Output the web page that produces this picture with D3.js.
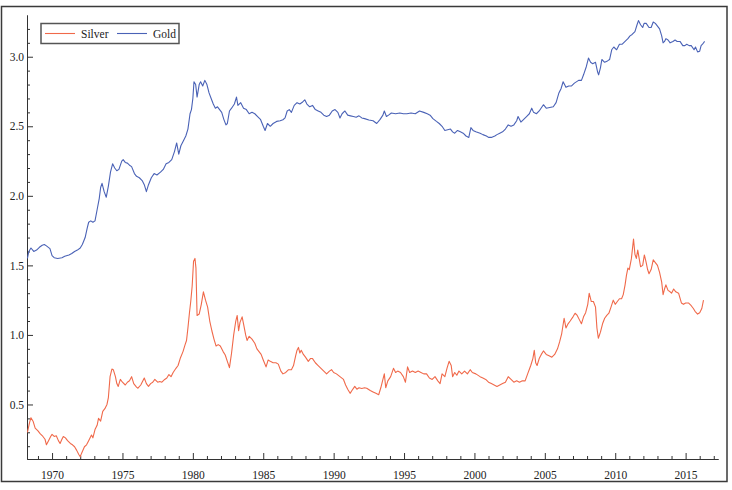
<!DOCTYPE html>
<html>
<head>
<meta charset="utf-8">
<script src="https://cdn.jsdelivr.net/npm/d3@7"></script>
<style>
html,body{margin:0;padding:0;background:#fff;}
svg{display:block;}
</style>
</head>
<body>
<svg id="chart" width="732" height="490"></svg>
<script>
// ---- Data (log10 of price) ----
const seriesNames = ["Silver", "Gold"];
const seriesColors = ["#f0694a", "#4a62b6"];

const goldYears = [1968.25,1968.35,1968.5,1968.7,1968.9,1969.1,1969.3,1969.45,1969.6,1969.85,1970.0,1970.15,1970.4,1970.7,1970.9,1971.2,1971.4,1971.6,1971.8,1972.0,1972.15,1972.35,1972.5,1972.6,1972.75,1972.9,1973.05,1973.2,1973.35,1973.45,1973.55,1973.7,1973.85,1974.0,1974.15,1974.3,1974.45,1974.6,1974.75,1974.95,1975.05,1975.2,1975.35,1975.5,1975.65,1975.85,1976.0,1976.2,1976.4,1976.55,1976.7,1976.85,1977.05,1977.25,1977.45,1977.7,1977.9,1978.1,1978.3,1978.5,1978.7,1978.85,1979.0,1979.15,1979.35,1979.5,1979.65,1979.8,1979.9,1980.0,1980.08,1980.2,1980.3,1980.45,1980.55,1980.7,1980.85,1981.0,1981.15,1981.3,1981.45,1981.6,1981.75,1981.9,1982.05,1982.2,1982.35,1982.45,1982.6,1982.75,1982.95,1983.1,1983.2,1983.4,1983.6,1983.8,1984.0,1984.2,1984.4,1984.6,1984.8,1985.0,1985.13,1985.3,1985.5,1985.7,1985.95,1986.2,1986.4,1986.55,1986.7,1986.85,1987.0,1987.2,1987.4,1987.6,1987.8,1987.95,1988.1,1988.3,1988.5,1988.7,1988.9,1989.1,1989.3,1989.5,1989.7,1989.9,1990.1,1990.3,1990.45,1990.6,1990.8,1991.0,1991.2,1991.4,1991.6,1991.8,1992.0,1992.2,1992.5,1992.8,1993.06,1993.3,1993.5,1993.6,1993.75,1993.9,1994.1,1994.4,1994.7,1994.95,1995.2,1995.5,1995.8,1996.1,1996.4,1996.65,1996.85,1997.05,1997.3,1997.5,1997.7,1997.9,1998.1,1998.3,1998.45,1998.6,1998.8,1999.0,1999.2,1999.4,1999.6,1999.75,1999.9,2000.1,2000.4,2000.6,2000.85,2001.0,2001.2,2001.45,2001.6,2001.8,2002.0,2002.2,2002.4,2002.6,2002.8,2003.0,2003.1,2003.3,2003.5,2003.7,2003.9,2004.07,2004.2,2004.4,2004.6,2004.9,2005.1,2005.35,2005.6,2005.8,2006.0,2006.15,2006.3,2006.5,2006.7,2006.9,2007.1,2007.4,2007.6,2007.75,2007.95,2008.1,2008.25,2008.4,2008.6,2008.75,2008.82,2008.95,2009.05,2009.25,2009.45,2009.6,2009.75,2009.9,2010.1,2010.3,2010.5,2010.7,2010.9,2011.05,2011.2,2011.4,2011.55,2011.65,2011.8,2011.95,2012.05,2012.2,2012.4,2012.55,2012.7,2012.85,2013.0,2013.15,2013.3,2013.4,2013.5,2013.6,2013.75,2013.9,2014.1,2014.25,2014.4,2014.6,2014.8,2014.95,2015.08,2015.25,2015.4,2015.6,2015.7,2015.85,2016.0,2016.1,2016.2,2016.35];
const goldValues = [1.55,1.60,1.625,1.60,1.61,1.63,1.645,1.65,1.64,1.62,1.57,1.555,1.55,1.555,1.565,1.575,1.585,1.60,1.61,1.625,1.65,1.70,1.77,1.81,1.82,1.81,1.82,1.90,1.98,2.06,2.09,2.03,1.99,2.07,2.17,2.23,2.20,2.18,2.19,2.25,2.26,2.24,2.235,2.22,2.21,2.16,2.14,2.13,2.11,2.08,2.03,2.08,2.13,2.16,2.15,2.17,2.19,2.23,2.24,2.26,2.32,2.38,2.30,2.36,2.40,2.43,2.48,2.59,2.62,2.70,2.82,2.80,2.71,2.80,2.82,2.79,2.83,2.80,2.74,2.70,2.66,2.63,2.64,2.62,2.60,2.55,2.51,2.52,2.61,2.63,2.66,2.71,2.65,2.67,2.63,2.62,2.59,2.60,2.59,2.57,2.55,2.50,2.47,2.52,2.50,2.52,2.535,2.54,2.547,2.56,2.61,2.62,2.60,2.65,2.67,2.66,2.675,2.69,2.66,2.64,2.65,2.62,2.61,2.60,2.58,2.57,2.58,2.61,2.62,2.60,2.56,2.59,2.61,2.58,2.575,2.57,2.565,2.575,2.56,2.555,2.545,2.54,2.52,2.55,2.58,2.61,2.57,2.58,2.595,2.59,2.595,2.59,2.59,2.595,2.59,2.61,2.60,2.59,2.58,2.555,2.535,2.52,2.50,2.47,2.475,2.48,2.46,2.45,2.47,2.46,2.45,2.43,2.42,2.49,2.47,2.46,2.45,2.44,2.43,2.42,2.42,2.43,2.44,2.45,2.46,2.48,2.51,2.50,2.51,2.54,2.57,2.53,2.55,2.57,2.59,2.63,2.60,2.59,2.61,2.655,2.63,2.635,2.64,2.67,2.74,2.77,2.82,2.78,2.79,2.79,2.81,2.83,2.83,2.87,2.93,2.99,2.96,2.95,2.96,2.89,2.87,2.92,2.98,2.96,2.97,2.98,3.05,3.07,3.05,3.09,3.09,3.11,3.13,3.15,3.16,3.18,3.23,3.26,3.23,3.21,3.24,3.24,3.21,3.21,3.25,3.24,3.22,3.20,3.15,3.10,3.11,3.13,3.12,3.10,3.11,3.12,3.11,3.11,3.08,3.08,3.09,3.08,3.08,3.05,3.07,3.035,3.04,3.08,3.09,3.11];

const silverYears = [1968.25,1968.4,1968.5,1968.65,1968.8,1969.0,1969.15,1969.35,1969.5,1969.6,1969.75,1969.9,1970.0,1970.15,1970.3,1970.45,1970.57,1970.7,1970.8,1970.95,1971.1,1971.3,1971.45,1971.6,1971.75,1971.9,1972.0,1972.1,1972.3,1972.45,1972.6,1972.8,1972.9,1973.05,1973.2,1973.3,1973.45,1973.6,1973.75,1973.9,1974.0,1974.12,1974.25,1974.35,1974.5,1974.6,1974.7,1974.85,1975.0,1975.2,1975.35,1975.5,1975.65,1975.8,1976.0,1976.1,1976.3,1976.55,1976.7,1976.85,1977.0,1977.15,1977.3,1977.5,1977.65,1977.8,1978.0,1978.15,1978.3,1978.45,1978.6,1978.8,1978.95,1979.1,1979.3,1979.45,1979.55,1979.65,1979.75,1979.85,1979.95,1980.05,1980.15,1980.22,1980.3,1980.45,1980.6,1980.75,1980.9,1981.05,1981.2,1981.35,1981.5,1981.65,1981.8,1981.95,1982.15,1982.3,1982.45,1982.6,1982.75,1982.9,1983.05,1983.15,1983.25,1983.35,1983.5,1983.6,1983.75,1983.85,1984.0,1984.2,1984.4,1984.55,1984.7,1984.85,1985.0,1985.2,1985.35,1985.5,1985.7,1985.9,1986.07,1986.25,1986.4,1986.6,1986.8,1987.0,1987.15,1987.3,1987.4,1987.5,1987.6,1987.7,1987.85,1988.0,1988.2,1988.35,1988.5,1988.7,1988.9,1989.1,1989.3,1989.5,1989.7,1989.85,1990.0,1990.2,1990.45,1990.7,1990.85,1991.0,1991.17,1991.3,1991.5,1991.65,1991.8,1992.0,1992.2,1992.35,1992.6,1992.8,1993.0,1993.2,1993.35,1993.5,1993.6,1993.7,1993.85,1994.05,1994.25,1994.4,1994.55,1994.75,1994.95,1995.1,1995.25,1995.4,1995.6,1995.8,1996.0,1996.2,1996.4,1996.6,1996.8,1997.0,1997.2,1997.4,1997.56,1997.7,1997.9,1998.05,1998.2,1998.35,1998.45,1998.6,1998.75,1998.9,1999.1,1999.3,1999.5,1999.7,1999.85,2000.1,2000.4,2000.6,2000.8,2001.0,2001.2,2001.4,2001.6,2001.8,2002.0,2002.2,2002.4,2002.6,2002.8,2003.0,2003.2,2003.4,2003.6,2003.8,2004.0,2004.15,2004.25,2004.35,2004.45,2004.6,2004.75,2004.9,2005.1,2005.3,2005.5,2005.7,2005.9,2006.05,2006.2,2006.37,2006.5,2006.65,2006.8,2007.0,2007.15,2007.3,2007.45,2007.6,2007.75,2007.9,2008.05,2008.15,2008.3,2008.45,2008.6,2008.7,2008.8,2008.95,2009.1,2009.25,2009.4,2009.55,2009.7,2009.86,2010.0,2010.15,2010.3,2010.45,2010.57,2010.7,2010.8,2010.9,2011.0,2011.15,2011.3,2011.4,2011.5,2011.6,2011.7,2011.8,2011.95,2012.07,2012.2,2012.3,2012.4,2012.55,2012.7,2012.85,2013.0,2013.15,2013.3,2013.4,2013.5,2013.6,2013.75,2013.9,2014.0,2014.15,2014.3,2014.5,2014.7,2014.85,2015.0,2015.2,2015.4,2015.55,2015.67,2015.85,2016.0,2016.15,2016.27];
const silverValues = [0.30,0.37,0.405,0.38,0.33,0.31,0.29,0.27,0.25,0.21,0.24,0.27,0.285,0.27,0.275,0.24,0.22,0.25,0.27,0.26,0.24,0.22,0.21,0.196,0.17,0.14,0.124,0.15,0.196,0.21,0.24,0.28,0.26,0.32,0.35,0.40,0.38,0.45,0.47,0.50,0.55,0.70,0.755,0.75,0.70,0.65,0.63,0.68,0.66,0.64,0.66,0.67,0.70,0.65,0.625,0.617,0.64,0.69,0.65,0.63,0.65,0.66,0.68,0.66,0.665,0.66,0.68,0.69,0.715,0.70,0.73,0.76,0.78,0.83,0.88,0.93,0.96,1.05,1.15,1.24,1.35,1.53,1.55,1.48,1.14,1.15,1.22,1.31,1.25,1.20,1.10,1.03,0.97,0.92,0.93,0.92,0.88,0.856,0.81,0.765,0.87,1.00,1.10,1.14,1.03,1.09,1.13,1.08,1.00,0.96,0.99,0.97,0.94,0.90,0.88,0.86,0.82,0.77,0.82,0.81,0.80,0.80,0.79,0.74,0.72,0.73,0.75,0.75,0.78,0.85,0.89,0.91,0.87,0.89,0.86,0.84,0.81,0.83,0.83,0.80,0.78,0.76,0.74,0.72,0.74,0.75,0.73,0.72,0.70,0.68,0.64,0.61,0.58,0.60,0.63,0.61,0.62,0.615,0.62,0.617,0.60,0.59,0.58,0.57,0.62,0.68,0.72,0.62,0.67,0.70,0.76,0.73,0.74,0.73,0.70,0.66,0.77,0.73,0.74,0.73,0.74,0.73,0.72,0.72,0.69,0.68,0.70,0.67,0.65,0.72,0.70,0.76,0.81,0.78,0.70,0.73,0.71,0.74,0.72,0.74,0.72,0.75,0.73,0.72,0.70,0.69,0.68,0.66,0.65,0.64,0.63,0.64,0.65,0.66,0.70,0.68,0.66,0.67,0.66,0.67,0.67,0.725,0.78,0.83,0.89,0.80,0.78,0.83,0.86,0.885,0.86,0.85,0.84,0.86,0.90,0.95,1.01,1.12,1.05,1.08,1.10,1.13,1.156,1.14,1.11,1.08,1.13,1.16,1.22,1.30,1.24,1.24,1.20,1.05,0.976,1.02,1.08,1.12,1.14,1.156,1.20,1.25,1.22,1.24,1.26,1.26,1.29,1.36,1.43,1.48,1.47,1.55,1.69,1.58,1.55,1.61,1.55,1.49,1.50,1.575,1.52,1.47,1.44,1.47,1.54,1.52,1.50,1.45,1.38,1.29,1.33,1.36,1.32,1.31,1.30,1.33,1.31,1.30,1.23,1.22,1.23,1.23,1.21,1.19,1.17,1.15,1.16,1.19,1.25];

const xMajorTicks = [1970, 1975, 1980, 1985, 1990, 1995, 2000, 2005, 2010, 2015];
const yMajorTicks = [0.5, 1.0, 1.5, 2.0, 2.5, 3.0];

// ---- Drawing ----
const svg = d3.select("#chart");
const fontFam = "'Liberation Serif','DejaVu Serif',serif";

// outer frame
svg.append("rect").attr("x", 1.5).attr("y", 6.5).attr("width", 725.5).attr("height", 475)
  .attr("fill", "#fff").attr("stroke", "#3a3a3a").attr("stroke-width", 1.5);

const x = d3.scaleLinear().domain([1968.22, 2017.3]).range([27, 718]);
const y = d3.scaleLinear().domain([0.108, 3.30]).range([459, 15]);

const axisColor = "#333";

// X axis minor ticks (each year)
const xMinor = d3.range(1969, 2018).filter(v => !xMajorTicks.includes(v));
const xAxisMinor = d3.axisBottom(x).tickValues(xMinor).tickSizeInner(-3).tickSizeOuter(0).tickFormat("");
const xAxisMajor = d3.axisBottom(x).tickValues(xMajorTicks).tickSizeInner(-6).tickSizeOuter(0).tickPadding(12).tickFormat(d3.format("d"));

const gxm = svg.append("g").attr("transform", "translate(0,459)").call(xAxisMinor);
const gx = svg.append("g").attr("transform", "translate(0,459)").call(xAxisMajor);
[gxm, gx].forEach(g => {
  g.select(".domain").attr("stroke", axisColor).attr("stroke-width", 1);
  g.selectAll(".tick line").attr("stroke", axisColor);
});
gx.selectAll(".tick text").attr("font-family", fontFam).attr("font-size", 11.5).attr("fill", "#222");

// Y axis
const yMinor = d3.range(2, 33).map(v => v / 10).filter(v => !yMajorTicks.some(t => Math.abs(t - v) < 1e-6));
const yAxisMinor = d3.axisLeft(y).tickValues(yMinor).tickSizeInner(-3).tickSizeOuter(0).tickFormat("");
const yAxisMajor = d3.axisLeft(y).tickValues(yMajorTicks).tickSizeInner(-6).tickSizeOuter(0).tickPadding(3).tickFormat(d3.format(".1f"));
const gym = svg.append("g").attr("transform", "translate(27,0)").call(yAxisMinor);
const gy = svg.append("g").attr("transform", "translate(27,0)").call(yAxisMajor);
[gym, gy].forEach(g => {
  g.select(".domain").attr("stroke", axisColor).attr("stroke-width", 1);
  g.selectAll(".tick line").attr("stroke", axisColor);
});
gy.selectAll(".tick text").attr("font-family", fontFam).attr("font-size", 11.5).attr("fill", "#222");

// Lines
const line = d3.line().x(d => x(d[0])).y(d => y(d[1]));
const silverData = silverYears.map((t, i) => [t, silverValues[i]]);
const goldData = goldYears.map((t, i) => [t, goldValues[i]]);

svg.append("path").datum(silverData).attr("d", line)
  .attr("fill", "none").attr("stroke", seriesColors[0]).attr("stroke-width", 1.1).attr("stroke-linejoin", "round");
svg.append("path").datum(goldData).attr("d", line)
  .attr("fill", "none").attr("stroke", seriesColors[1]).attr("stroke-width", 1.1).attr("stroke-linejoin", "round");

// Legend
const lg = svg.append("g");
lg.append("rect").attr("x", 41).attr("y", 23.5).attr("width", 138).attr("height", 20)
  .attr("fill", "#fff").attr("stroke", "#555").attr("stroke-width", 1.5);
const legendItems = [
  {name: seriesNames[0], color: seriesColors[0], x0: 45},
  {name: seriesNames[1], color: seriesColors[1], x0: 117}
];
legendItems.forEach(it => {
  lg.append("line").attr("x1", it.x0).attr("x2", it.x0 + 30).attr("y1", 33.5).attr("y2", 33.5)
    .attr("stroke", it.color).attr("stroke-width", 1.1);
  lg.append("text").attr("x", it.x0 + 36).attr("y", 37.5).text(it.name)
    .attr("font-family", fontFam).attr("font-size", 11.5).attr("fill", "#222");
});
</script>
</body>
</html>
